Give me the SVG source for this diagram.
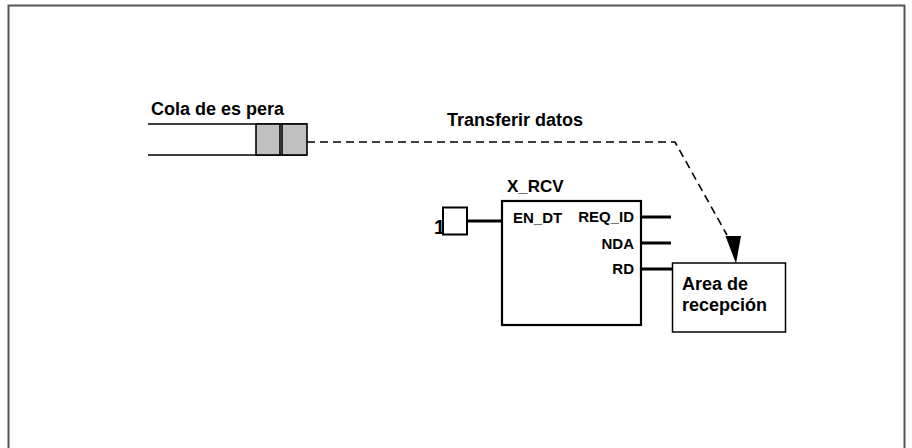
<svg xmlns="http://www.w3.org/2000/svg" width="912" height="448" viewBox="0 0 912 448">
<style>
text{font-family:"Liberation Sans",Arial,sans-serif;font-weight:bold;fill:#000}
.frame{fill:none;stroke:#555;stroke-width:2}
.thin{fill:none;stroke:#000;stroke-width:1.6}
.cell{fill:#c0c0c0;stroke:#000;stroke-width:1.6}
.pin{fill:none;stroke:#000;stroke-width:3}
.dash{fill:none;stroke:#000;stroke-width:1.6;stroke-dasharray:8 5}
.big{font-size:18px}
.port{font-size:15px}
</style>
<rect width="912" height="448" fill="#fff"/>
<path class="frame" d="M8.5,452 V5.5 H904.5 V452"/>
<g id="queue">
<path class="thin" d="M148,124 H307 M148,155 H307"/>
<rect class="cell" x="256" y="124" width="24" height="31"/>
<rect class="cell" x="282" y="124" width="25" height="31"/>
<text class="big" x="151" y="115">Cola de es pera</text>
</g>
<g id="const1">
<text x="434" y="234" font-size="20">1</text>
<rect x="443" y="207.5" width="24" height="27" fill="#fff" stroke="#000" stroke-width="2"/>
</g>
<g id="x_rcv">
<rect x="502" y="201" width="139" height="124" fill="#fff" stroke="#000" stroke-width="2.2"/>
<text x="507" y="192" font-size="17">X_RCV</text>
<text class="port" x="513" y="223">EN_DT</text>
<text class="port" x="634" y="222" text-anchor="end">REQ_ID</text>
<text class="port" x="634" y="249" text-anchor="end">NDA</text>
<text class="port" x="634" y="274" text-anchor="end">RD</text>
</g>
<g id="area">
<rect x="672.5" y="263" width="113" height="69" fill="#fff" stroke="#000" stroke-width="1.5"/>
<text class="big" x="682" y="290">Area de</text>
<text class="big" x="682" y="311">recepción</text>
</g>
<g id="connectors">
<path class="pin" d="M467,221 H501"/>
<path class="pin" d="M641,217 H671"/>
<path class="pin" d="M641,243 H671"/>
<path class="pin" d="M641,269 H672"/>
<path class="dash" d="M307,142 H675 L727,235"/>
<polygon points="725.5,236 741,236 736,263.5" fill="#000"/>
<text class="big" x="447" y="126">Transferir datos</text>
</g>
</svg>
